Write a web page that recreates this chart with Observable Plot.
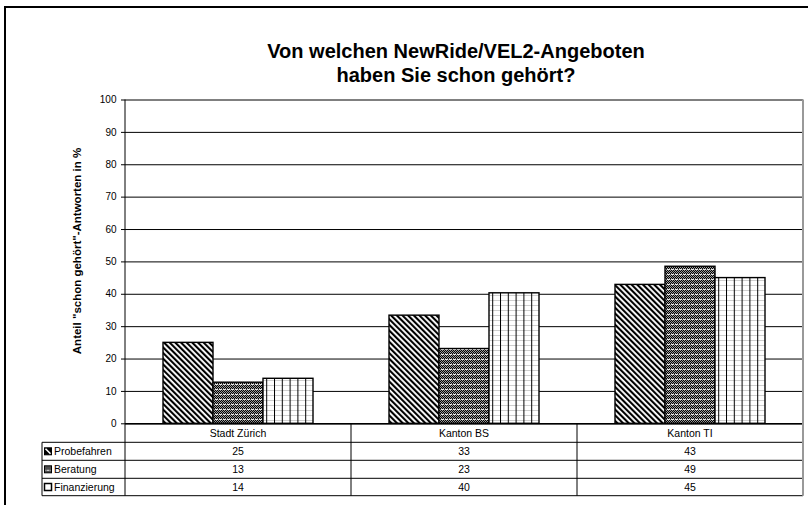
<!DOCTYPE html>
<html><head><meta charset="utf-8">
<script src="https://cdn.jsdelivr.net/npm/d3@7"></script>
<script src="https://cdn.jsdelivr.net/npm/@observablehq/plot@0.6"></script>
<style>
html,body{margin:0;padding:0;background:#fff;overflow:hidden;}
#wrap{position:relative;width:808px;height:505px;overflow:hidden;background:#fff;}
#frame{position:absolute;left:4px;top:6px;width:900px;height:600px;border:2px solid #000;}
#chart{position:absolute;left:0;top:0;}
</style></head><body>
<div id="wrap"><div id="frame"></div><div id="chart"></div></div>
<script>
const categories = ["Stadt Zürich", "Kanton BS", "Kanton TI"];
const seriesNames = ["Probefahren", "Beratung", "Finanzierung"];
const probefahren = [25, 33.4, 42.9];
const beratung = [12.7, 23.1, 48.5];
const finanzierung = [13.9, 40.3, 45.0];
const yTicks = [0, 10, 20, 30, 40, 50, 60, 70, 80, 90, 100];
const titleLines = ["Von welchen NewRide/VEL2-Angeboten", "haben Sie schon gehört?"];
const yLabel = 'Anteil "schon gehört"-Antworten in %';

const FONT = '"Liberation Sans", Arial, Helvetica, sans-serif';
const seriesValues = [probefahren, beratung, finanzierung];
const patternIds = ["pProb", "pBer", "pFin"];
const rows = seriesNames.flatMap((s, j) => categories.map((c, i) => ({cat: c, series: s, value: seriesValues[j][i]})));

const plot = Plot.plot({
  width: 808, height: 505,
  marginLeft: 124, marginRight: 5, marginTop: 99.5, marginBottom: 81.7,
  style: {background: "transparent", fontFamily: FONT, fontSize: "10px", color: "#000", overflow: "visible"},
  fx: {domain: categories, padding: 0, axis: null},
  x: {domain: seriesNames, paddingInner: 0, paddingOuter: 0.74, axis: null},
  y: {domain: [0, 100]},
  marks: [
    Plot.gridY(yTicks, {stroke: "#000", strokeOpacity: 1, strokeWidth: 1}),
    ...seriesNames.map((s, j) => Plot.barY(rows.filter(r => r.series === s), {
      fx: "cat", x: "series", y: "value", fill: `url(#${patternIds[j]})`, stroke: "#000", strokeWidth: 1.4
    })),
    Plot.ruleY([0], {stroke: "#000", strokeWidth: 1.5}),
    Plot.axisY(yTicks, {tickSize: 4, tickPadding: 5, label: null, fontSize: 10})
  ]
});
document.getElementById("chart").appendChild(plot);

const svg = d3.select(plot);
const defs = svg.insert("defs", ":first-child");
// Probefahren: diagonal stripes
const p1 = defs.append("pattern").attr("id", "pProb").attr("patternUnits", "userSpaceOnUse")
  .attr("width", 4).attr("height", 4).attr("patternTransform", "rotate(-45)");
p1.append("rect").attr("width", 4).attr("height", 4).attr("fill", "#fff");
p1.append("rect").attr("width", 2.1).attr("height", 4).attr("fill", "#000");
// Beratung: dense dark checker with white dotted rows
const p2 = defs.append("pattern").attr("id", "pBer").attr("patternUnits", "userSpaceOnUse")
  .attr("width", 4).attr("height", 5);
p2.append("rect").attr("width", 4).attr("height", 5).attr("fill", "#9a9a9a");
[[0,0],[2,0],[1,1],[3,1],[0,2],[2,2],[1,3],[3,3]].forEach(([x, y]) =>
  p2.append("rect").attr("x", x).attr("y", y).attr("width", 1).attr("height", 1).attr("fill", "#000"));
p2.append("rect").attr("x", 0).attr("y", 4).attr("width", 4).attr("height", 1).attr("fill", "#e8e8e8");
p2.append("rect").attr("x", 1).attr("y", 4).attr("width", 1).attr("height", 1).attr("fill", "#444");
// Finanzierung: vertical black lines + light horizontal lines
const p3 = defs.append("pattern").attr("id", "pFin").attr("patternUnits", "userSpaceOnUse")
  .attr("width", 7.8).attr("height", 5);
p3.append("rect").attr("width", 7.8).attr("height", 5).attr("fill", "#fff");
p3.append("rect").attr("width", 7.8).attr("height", 1).attr("fill", "#cfcfcf");
p3.append("rect").attr("width", 1).attr("height", 5).attr("fill", "#000");

// Title
const title = svg.append("text").attr("text-anchor", "middle")
  .attr("font-family", FONT).attr("font-weight", "bold").attr("font-size", 20).attr("fill", "#000");
titleLines.forEach((t, i) => title.append("tspan").attr("x", 456).attr("y", 58 + i * 23.5).text(t));

// Y label
svg.append("text").attr("transform", "translate(80.5,251) rotate(-90)").attr("text-anchor", "middle")
  .attr("font-family", FONT).attr("font-weight", "bold").attr("font-size", 11.5).attr("fill", "#000").text(yLabel);

// Data table
const fx = plot.scale("fx"), ys = plot.scale("y");
const colEdges = categories.map(c => fx.apply(c)).concat([fx.apply(categories[categories.length - 1]) + fx.bandwidth]);
const yTop = ys.apply(100), yBase = ys.apply(0);
const rowEdges = [0, 19, 37, 55, 72.4].map(d => yBase + d);
const labelLeft = 42, plotLeft = colEdges[0], plotRight = colEdges[colEdges.length - 1];
const tg = svg.append("g").attr("font-family", FONT).attr("font-size", 10.5).attr("fill", "#000");
const line = (x1, y1, x2, y2, stroke = "#000", w = 1) =>
  tg.append("line").attr("x1", x1).attr("y1", y1).attr("x2", x2).attr("y2", y2).attr("stroke", stroke).attr("stroke-width", w);
line(plotLeft, yTop, plotLeft, rowEdges[4]);
colEdges.slice(1, -1).forEach(x => line(x, yBase, x, rowEdges[4]));
line(labelLeft, rowEdges[1], labelLeft, rowEdges[4]);
rowEdges.slice(1).forEach(y => line(labelLeft, y, plotRight, y));
line(plotRight, yTop, plotRight, rowEdges[4], "#999", 2);

categories.forEach((c, i) => {
  const cx = fx.apply(c) + fx.bandwidth / 2;
  tg.append("text").attr("x", cx).attr("y", (rowEdges[0] + rowEdges[1]) / 2).attr("dy", "0.38em")
    .attr("text-anchor", "middle").text(c);
  seriesNames.forEach((s, j) => {
    tg.append("text").attr("x", cx).attr("y", (rowEdges[j + 1] + rowEdges[j + 2]) / 2).attr("dy", "0.38em")
      .attr("text-anchor", "middle").text(Math.round(seriesValues[j][i]));
  });
});
seriesNames.forEach((s, j) => {
  const cy = (rowEdges[j + 1] + rowEdges[j + 2]) / 2;
  tg.append("text").attr("x", 54).attr("y", cy).attr("dy", "0.38em").attr("text-anchor", "start").text(s);
  const k = tg.append("g").attr("transform", `translate(44.5,${cy - 3.5})`);
  if (j === 0) {
    k.append("rect").attr("width", 7).attr("height", 7).attr("fill", "#000").attr("stroke", "#000");
    k.append("line").attr("x1", 1).attr("y1", 1).attr("x2", 6).attr("y2", 6).attr("stroke", "#fff").attr("stroke-width", 1.6);
  } else if (j === 1) {
    k.append("rect").attr("width", 7).attr("height", 7).attr("fill", "url(#pBer)").attr("stroke", "#000");
  } else {
    k.append("rect").attr("width", 7).attr("height", 7).attr("fill", "#fff").attr("stroke", "#000").attr("stroke-width", 1.5);
  }
});
</script>
</body></html>
